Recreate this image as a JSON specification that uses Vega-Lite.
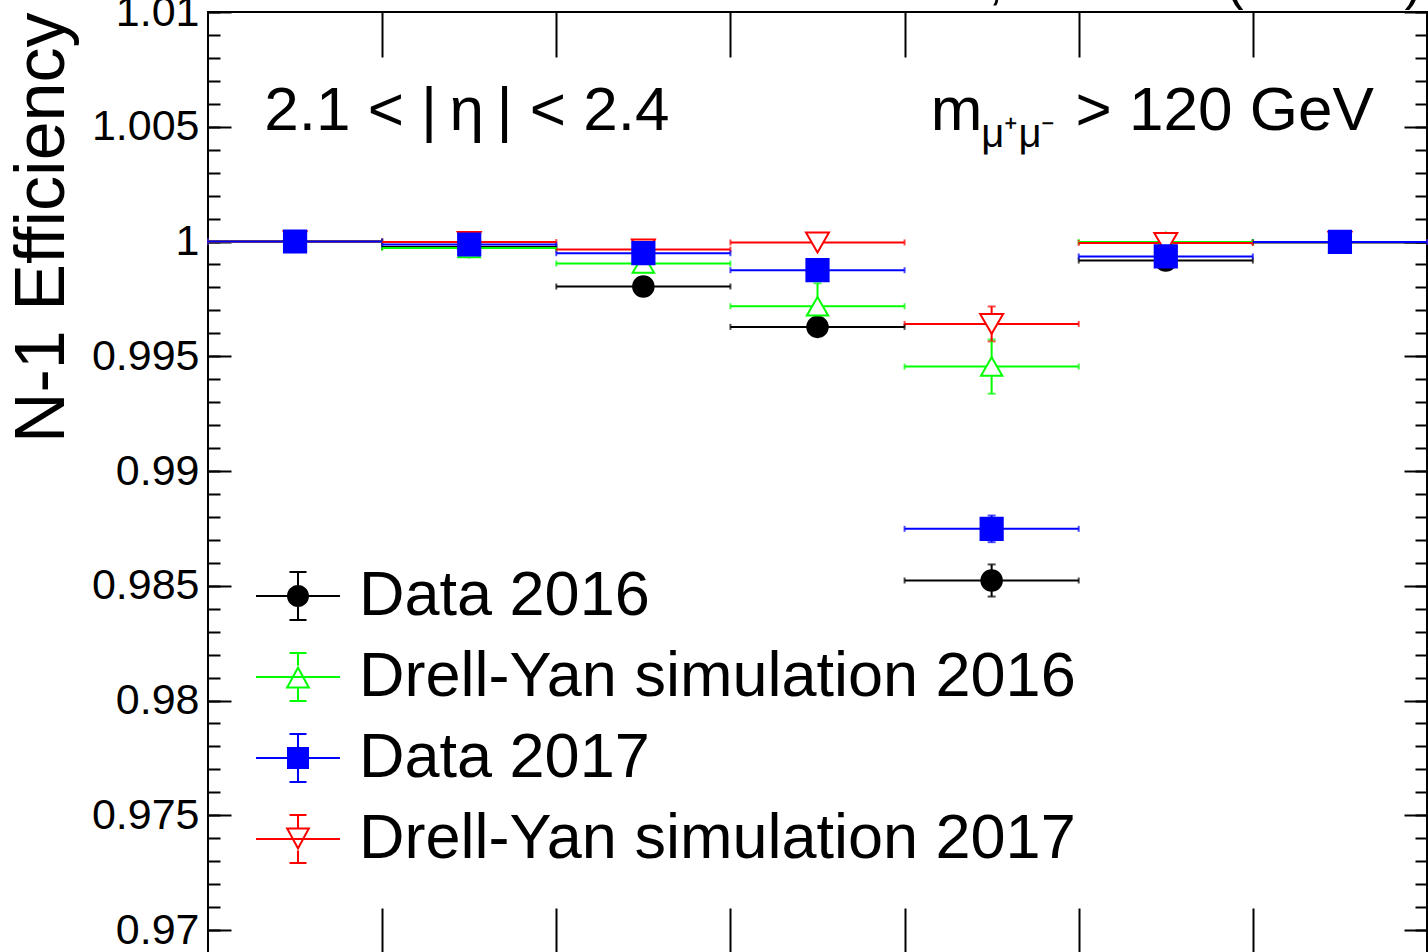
{
  "$schema": "https://vega.github.io/schema/vega-lite/v6.json",
  "width": 1219,
  "height": 941,
  "autosize": {"type": "none"},
  "padding": {"left": 208, "top": 12, "right": 1, "bottom": 0},
  "background": "white",
  "config": {
    "view": {"stroke": "black", "strokeWidth": 2},
    "font": "Liberation Sans",
    "axis": {"grid": false, "domain": false, "tickColor": "black", "tickWidth": 2, "labelColor": "black", "labelFont": "Liberation Sans", "titleFont": "Liberation Sans", "titleColor": "black", "titleFontWeight": "normal", "labelFlush": false, "labelOverlap": false, "labelBound": false}
  },
  "datasets": {
    "eff": [
      {"s": "Data 2016", "x": 0.5, "lo": 0, "hi": 1, "eff": 1.0, "err": 0.0002},
      {"s": "Data 2016", "x": 1.5, "lo": 1, "hi": 2, "eff": 0.99976, "err": 0.0002},
      {"s": "Data 2016", "x": 2.5, "lo": 2, "hi": 3, "eff": 0.99804, "err": 0.0002},
      {"s": "Data 2016", "x": 3.5, "lo": 3, "hi": 4, "eff": 0.99628, "err": 0.0002},
      {"s": "Data 2016", "x": 4.5, "lo": 4, "hi": 5, "eff": 0.98523, "err": 0.0007},
      {"s": "Data 2016", "x": 5.5, "lo": 5, "hi": 6, "eff": 0.99917, "err": 0.0002},
      {"s": "Data 2016", "x": 6.5, "lo": 6, "hi": 7, "eff": 0.99996, "err": 0.0001},
      {"s": "Drell-Yan simulation 2016", "x": 0.5, "lo": 0, "hi": 1, "eff": 1.0, "err": 0.0001},
      {"s": "Drell-Yan simulation 2016", "x": 1.5, "lo": 1, "hi": 2, "eff": 0.99972, "err": 0.0001},
      {"s": "Drell-Yan simulation 2016", "x": 2.5, "lo": 2, "hi": 3, "eff": 0.99904, "err": 0.0002},
      {"s": "Drell-Yan simulation 2016", "x": 3.5, "lo": 3, "hi": 4, "eff": 0.99718, "err": 0.001},
      {"s": "Drell-Yan simulation 2016", "x": 4.5, "lo": 4, "hi": 5, "eff": 0.99455, "err": 0.00118},
      {"s": "Drell-Yan simulation 2016", "x": 5.5, "lo": 5, "hi": 6, "eff": 0.99998, "err": 0.0001},
      {"s": "Drell-Yan simulation 2016", "x": 6.5, "lo": 6, "hi": 7, "eff": 0.99998, "err": 0.0001},
      {"s": "Drell-Yan simulation 2017", "x": 0.5, "lo": 0, "hi": 1, "eff": 1.0, "err": 0.0001},
      {"s": "Drell-Yan simulation 2017", "x": 1.5, "lo": 1, "hi": 2, "eff": 0.99998, "err": 0.0001},
      {"s": "Drell-Yan simulation 2017", "x": 2.5, "lo": 2, "hi": 3, "eff": 0.99965, "err": 0.0001},
      {"s": "Drell-Yan simulation 2017", "x": 3.5, "lo": 3, "hi": 4, "eff": 0.99996, "err": 0.0001},
      {"s": "Drell-Yan simulation 2017", "x": 4.5, "lo": 4, "hi": 5, "eff": 0.99641, "err": 0.00076},
      {"s": "Drell-Yan simulation 2017", "x": 5.5, "lo": 5, "hi": 6, "eff": 0.99994, "err": 0.0001},
      {"s": "Drell-Yan simulation 2017", "x": 6.5, "lo": 6, "hi": 7, "eff": 0.99998, "err": 0.0001},
      {"s": "Data 2017", "x": 0.5, "lo": 0, "hi": 1, "eff": 1.0, "err": 0.0001},
      {"s": "Data 2017", "x": 1.5, "lo": 1, "hi": 2, "eff": 0.99987, "err": 0.0001},
      {"s": "Data 2017", "x": 2.5, "lo": 2, "hi": 3, "eff": 0.99949, "err": 0.0001},
      {"s": "Data 2017", "x": 3.5, "lo": 3, "hi": 4, "eff": 0.99875, "err": 0.0002},
      {"s": "Data 2017", "x": 4.5, "lo": 4, "hi": 5, "eff": 0.98748, "err": 0.00058},
      {"s": "Data 2017", "x": 5.5, "lo": 5, "hi": 6, "eff": 0.99935, "err": 0.0001},
      {"s": "Data 2017", "x": 6.5, "lo": 6, "hi": 7, "eff": 0.99998, "err": 0.0001}
    ]
  },
  "resolve": {"axis": {"x": "independent", "y": "independent"}, "legend": {"color": "independent"}, "scale": {"shape": "independent"}},
  "layer": [
    {
      "data": {"name": "eff"},
      "mark": {"type": "errorbar", "ticks": {"size": 6}, "thickness": 2},
      "encoding": {
        "x": {"field": "lo", "type": "quantitative", "scale": {"domain": [0, 7], "nice": false, "zero": false},
              "axis": {"orient": "bottom", "values": [1, 2, 3, 4, 5, 6], "tickSize": -45, "labels": false, "title": null}},
        "x2": {"field": "hi"},
        "y": {"field": "eff", "type": "quantitative", "scale": {"domain": [0.969, 1.01], "nice": false, "zero": false},
              "axis": {"orient": "left", "values": [0.97, 0.975, 0.98, 0.985, 0.99, 0.995, 1.0, 1.005, 1.01], "format": ".3~f", "tickSize": -23, "labelFontSize": 43, "labelPadding": 32, "title": "N-1 Efficiency", "titleFontSize": 70, "titleAnchor": "end", "titlePadding": 13}},
        "color": {"field": "s", "type": "nominal", "scale": {"domain": ["Data 2016", "Drell-Yan simulation 2016", "Data 2017", "Drell-Yan simulation 2017"], "range": ["#000000", "#00ff00", "#0000ff", "#ff0000"]}, "legend": null}
      }
    },
    {
      "data": {"name": "eff"},
      "mark": {"type": "errorbar", "ticks": {"size": 8}, "thickness": 2},
      "encoding": {
        "x": {"field": "x", "type": "quantitative",
              "axis": {"orient": "top", "values": [1, 2, 3, 4, 5, 6], "tickSize": -45, "labels": false, "title": null}},
        "y": {"field": "eff", "type": "quantitative",
              "axis": {"orient": "right", "values": [0.97, 0.975, 0.98, 0.985, 0.99, 0.995, 1.0, 1.005, 1.01], "tickSize": -23, "labels": false, "title": null}},
        "yError": {"field": "err"},
        "color": {"field": "s", "type": "nominal", "legend": null}
      }
    },
    {
      "data": {"name": "eff"},
      "mark": {"type": "point", "filled": false, "opacity": 1, "strokeWidth": 2},
      "encoding": {
        "x": {"field": "x", "type": "quantitative", "axis": null},
        "y": {"field": "eff", "type": "quantitative",
              "axis": {"orient": "left", "values": [0.97, 0.971, 0.972, 0.973, 0.974, 0.975, 0.976, 0.977, 0.978, 0.979, 0.98, 0.981, 0.982, 0.983, 0.984, 0.985, 0.986, 0.987, 0.988, 0.989, 0.99, 0.991, 0.992, 0.993, 0.994, 0.995, 0.996, 0.997, 0.998, 0.999, 1.0, 1.001, 1.002, 1.003, 1.004, 1.005, 1.006, 1.007, 1.008, 1.009, 1.01], "tickSize": -12, "labels": false, "title": null}},
        "color": {"field": "s", "type": "nominal", "legend": null},
        "fill": {"field": "s", "type": "nominal", "scale": {"domain": ["Data 2016", "Drell-Yan simulation 2016", "Data 2017", "Drell-Yan simulation 2017"], "range": ["#000000", "#ffffff", "#0000ff", "#ffffff"]}, "legend": null},
        "shape": {"field": "s", "type": "nominal", "scale": {"domain": ["Data 2016", "Drell-Yan simulation 2016", "Data 2017", "Drell-Yan simulation 2017"], "range": ["circle", "triangle-up", "square", "triangle-down"]}, "legend": null},
        "size": {"field": "s", "type": "nominal", "scale": {"domain": ["Data 2016", "Drell-Yan simulation 2016", "Data 2017", "Drell-Yan simulation 2017"], "range": [420, 529, 420, 529]}, "legend": null}
      }
    },
    {
      "data": {"name": "eff"},
      "transform": [{"filter": "false"}],
      "mark": {"type": "point", "filled": true, "opacity": 1},
      "encoding": {
        "x": {"field": "x", "type": "quantitative", "axis": null},
        "y": {"field": "eff", "type": "quantitative", "axis": null},
        "color": {"field": "s", "type": "nominal",
          "legend": {
            "title": null, "orient": "none", "legendX": 51, "legendY": 545, "padding": 0,
            "labelFontSize": 63, "labelFont": "Liberation Sans", "labelColor": "black", "labelLimit": 2000,
            "symbolSize": 6084, "symbolStrokeWidth": 0, "symbolOpacity": 1, "labelOffset": 22, "rowPadding": 10
          }
        },
        "shape": {"field": "s", "type": "nominal",
          "scale": {"domain": ["Data 2016", "Drell-Yan simulation 2016", "Data 2017", "Drell-Yan simulation 2017"],
            "range": [
              "M-1.077,-0.026L1.077,-0.026L1.077,0.026L-1.077,0.026Z M-0.026,-0.641L0.026,-0.641L0.026,0.641L-0.026,0.641Z M-0.218,-0.641L0.218,-0.641L0.218,-0.59L-0.218,-0.59Z M-0.218,0.59L0.218,0.59L0.218,0.641L-0.218,0.641Z M0.282,0C0.282,0.156 0.156,0.282 0,0.282C-0.156,0.282 -0.282,0.156 -0.282,0C-0.282,-0.156 -0.156,-0.282 0,-0.282C0.156,-0.282 0.282,-0.156 0.282,0Z",
              "M-1.077,-0.026L1.077,-0.026L1.077,0.026L-1.077,0.026Z M-0.026,-0.641L0.026,-0.641L0.026,-0.295L-0.026,-0.295Z M-0.026,0.295L0.026,0.295L0.026,0.641L-0.026,0.641Z M-0.218,-0.641L0.218,-0.641L0.218,-0.59L-0.218,-0.59Z M-0.218,0.59L0.218,0.59L0.218,0.641L-0.218,0.641Z M0,-0.295L0.321,0.295L-0.321,0.295Z M0,-0.187L-0.234,0.244L0.234,0.244Z",
              "M-1.077,-0.026L1.077,-0.026L1.077,0.026L-1.077,0.026Z M-0.026,-0.641L0.026,-0.641L0.026,0.641L-0.026,0.641Z M-0.218,-0.641L0.218,-0.641L0.218,-0.59L-0.218,-0.59Z M-0.218,0.59L0.218,0.59L0.218,0.641L-0.218,0.641Z M-0.282,-0.282L0.282,-0.282L0.282,0.282L-0.282,0.282Z",
              "M-1.077,-0.026L1.077,-0.026L1.077,0.026L-1.077,0.026Z M-0.026,-0.641L0.026,-0.641L0.026,-0.295L-0.026,-0.295Z M-0.026,0.295L0.026,0.295L0.026,0.641L-0.026,0.641Z M-0.218,-0.641L0.218,-0.641L0.218,-0.59L-0.218,-0.59Z M-0.218,0.59L0.218,0.59L0.218,0.641L-0.218,0.641Z M0,0.295L-0.321,-0.295L0.321,-0.295Z M0,0.187L0.234,-0.244L-0.234,-0.244Z"
            ]},
          "legend": {"title": null}
        }
      }
    },
    {
      "data": {"values": [{"t": "2.1 < |\u2009η\u2009| < 2.4"}]},
      "mark": {"type": "text", "align": "left", "baseline": "alphabetic", "fontSize": 62, "font": "Liberation Sans", "color": "black"},
      "encoding": {
        "x": {"datum": 0.323, "type": "quantitative", "axis": null},
        "y": {"datum": 1.00484, "type": "quantitative",
              "axis": {"orient": "right", "values": [0.97, 0.971, 0.972, 0.973, 0.974, 0.975, 0.976, 0.977, 0.978, 0.979, 0.98, 0.981, 0.982, 0.983, 0.984, 0.985, 0.986, 0.987, 0.988, 0.989, 0.99, 0.991, 0.992, 0.993, 0.994, 0.995, 0.996, 0.997, 0.998, 0.999, 1.0, 1.001, 1.002, 1.003, 1.004, 1.005, 1.006, 1.007, 1.008, 1.009, 1.01], "tickSize": -12, "labels": false, "title": null}},
        "text": {"field": "t"}
      }
    },
    {
      "data": {"values": [{"t": "m"}]},
      "mark": {"type": "text", "align": "left", "baseline": "alphabetic", "fontSize": 62, "font": "Liberation Sans", "color": "black"},
      "encoding": {
        "x": {"datum": 4.15, "type": "quantitative", "axis": null},
        "y": {"datum": 1.00484, "type": "quantitative", "axis": null},
        "text": {"field": "t"}
      }
    },
    {
      "data": {"values": [{"t": "μ⁺μ⁻"}]},
      "mark": {"type": "text", "align": "left", "baseline": "alphabetic", "fontSize": 40, "font": "Liberation Sans", "color": "black"},
      "encoding": {
        "x": {"datum": 4.441, "type": "quantitative", "axis": null},
        "y": {"datum": 1.0041, "type": "quantitative", "axis": null},
        "text": {"field": "t"}
      }
    },
    {
      "data": {"values": [{"t": "> 120 GeV"}]},
      "mark": {"type": "text", "align": "left", "baseline": "alphabetic", "fontSize": 62, "font": "Liberation Sans", "color": "black"},
      "encoding": {
        "x": {"datum": 4.982, "type": "quantitative", "axis": null},
        "y": {"datum": 1.00484, "type": "quantitative", "axis": null},
        "text": {"field": "t"}
      }
    },
    {
      "data": {"values": [{"t": "35.9 fb⁻¹, 41.5 fb⁻¹ (13 TeV)"}]},
      "mark": {"type": "text", "align": "right", "baseline": "alphabetic", "fontSize": 52, "font": "Liberation Sans", "color": "black"},
      "encoding": {
        "x": {"datum": 6.97, "type": "quantitative", "axis": null},
        "y": {"datum": 1.010545, "type": "quantitative", "axis": null},
        "text": {"field": "t"}
      }
    }
  ]
}
